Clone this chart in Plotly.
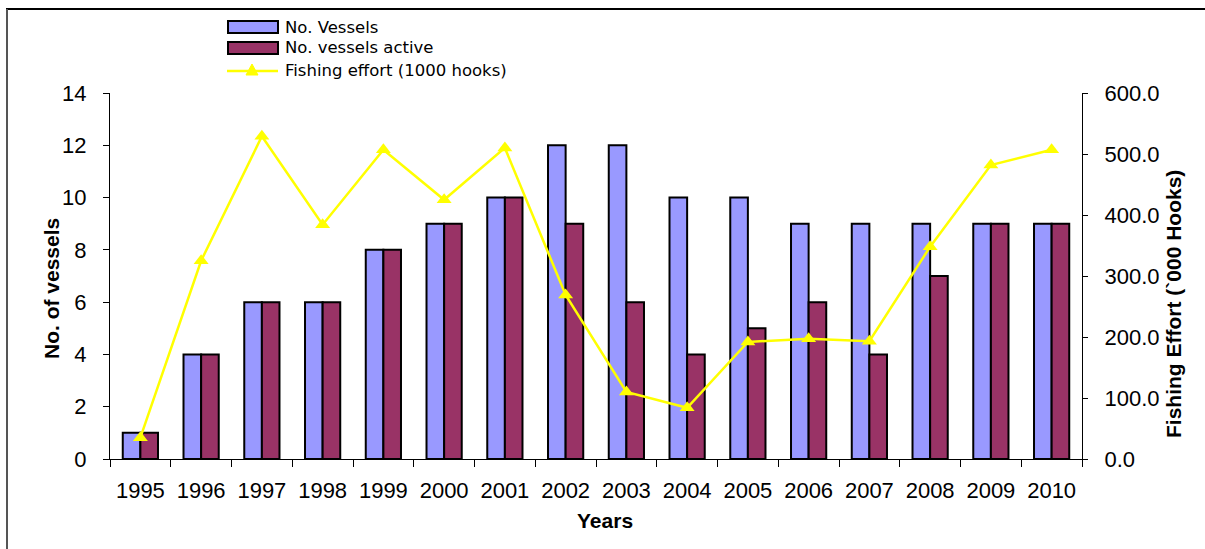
import plotly.graph_objects as go

years = [str(y) for y in range(1995, 2011)]
vessels = [1, 4, 6, 6, 8, 9, 10, 12, 12, 10, 10, 9, 9, 9, 9, 9]
vessels_active = [1, 4, 6, 6, 8, 9, 10, 9, 6, 4, 5, 6, 4, 7, 9, 9]
effort = [35, 325, 529, 384, 507, 425, 510, 269, 110, 84, 192, 197, 193, 348, 482, 507]

series_names = ["No. Vessels", "No. vessels active", "Fishing effort (1000 hooks)"]
blue = "#9999FF"
plum = "#993366"
yellow = "#FFFF00"

W, H = 1205, 549
L, R, T, B = 110, 123, 93, 90
PW, PH = W - L - R, H - T - B


def px(x):
    return (x - L) / PW


def py(y):
    return (H - B - y) / PH


fig = go.Figure()
fig.add_trace(go.Bar(x=years, y=vessels, name=series_names[0], marker=dict(color=blue, line=dict(color="black", width=2)), yaxis="y"))
fig.add_trace(go.Bar(x=years, y=vessels_active, name=series_names[1], marker=dict(color=plum, line=dict(color="black", width=2)), yaxis="y"))
fig.add_trace(go.Scatter(x=years, y=effort, name=series_names[2], mode="lines+markers",
                         line=dict(color=yellow, width=2.5),
                         marker=dict(symbol="triangle-up", size=13, color=yellow), yaxis="y2"))

axis_font = dict(family="Liberation Sans, Arial, sans-serif", size=22, color="black")
title_font = dict(family="Liberation Sans, Arial, sans-serif", size=21, color="black")

fig.update_layout(
    width=W, height=H,
    margin=dict(l=L, r=R, t=T, b=B),
    paper_bgcolor="white", plot_bgcolor="white",
    showlegend=False,
    barmode="group", bargap=0.42, bargroupgap=0,
    xaxis=dict(type="category", range=[-0.5, 15.5], showline=True, linecolor="black", linewidth=1.2,
               ticks="outside", tickson="boundaries", ticklen=7, tickcolor="black",
               tickfont=axis_font, showgrid=False, ticklabelstandoff=11),
    yaxis=dict(range=[0, 14], dtick=2, showline=True, linecolor="black", linewidth=1.2,
               ticks="outside", ticklen=6, tickcolor="black", tickfont=axis_font,
               showgrid=False, zeroline=False, ticklabelstandoff=12),
    yaxis2=dict(range=[0, 600], dtick=100, tickformat=".1f", overlaying="y", side="right",
                showline=True, linecolor="black", linewidth=1.2, ticks="outside", ticklen=5,
                tickcolor="black", tickfont=axis_font, showgrid=False, zeroline=False,
                ticklabelstandoff=12),
)

annotations = [
    dict(text="<b>Years</b>", x=px(605), y=py(520), xref="paper", yref="paper",
         showarrow=False, font=title_font, xanchor="center", yanchor="middle"),
    dict(text="<b>No. of vessels</b>", x=px(51), y=py(289), xref="paper", yref="paper",
         showarrow=False, font=title_font, textangle=-90, xanchor="center", yanchor="middle"),
    dict(text="<b>Fishing Effort (`000 Hooks)</b>", x=px(1173), y=py(304), xref="paper", yref="paper",
         showarrow=False, font=title_font, textangle=-90, xanchor="center", yanchor="middle"),
]

# hand-built legend block above the plot
legend_font = dict(family="DejaVu Sans, sans-serif", size=16.5, color="black")
rows = [27, 48, 70]
for name, yc in zip(series_names, rows):
    annotations.append(dict(text=name, x=px(283), y=py(yc), xref="paper", yref="paper",
                            showarrow=False, font=legend_font, xanchor="left", yanchor="middle"))

shapes = [
    dict(type="rect", xref="paper", yref="paper", x0=px(228), x1=px(278), y0=py(21), y1=py(33),
         fillcolor=blue, line=dict(color="black", width=2)),
    dict(type="rect", xref="paper", yref="paper", x0=px(228), x1=px(278), y0=py(42), y1=py(54),
         fillcolor=plum, line=dict(color="black", width=2)),
    dict(type="line", xref="paper", yref="paper", x0=px(227), x1=px(278), y0=py(71), y1=py(71),
         line=dict(color=yellow, width=2.5)),
    dict(type="path", xref="paper", yref="paper",
         path=f"M {px(246)},{py(75)} L {px(258)},{py(75)} L {px(252)},{py(64)} Z",
         fillcolor=yellow, line=dict(color=yellow, width=1)),
    # outer frame: top and left edges
    dict(type="line", xref="paper", yref="paper", x0=px(6), x1=px(1205), y0=py(9), y1=py(9),
         line=dict(color="black", width=2)),
    dict(type="line", xref="paper", yref="paper", x0=px(7), x1=px(7), y0=py(9), y1=py(549),
         line=dict(color="#555555", width=2)),
]

fig.update_layout(annotations=annotations, shapes=shapes)
fig.write_html("out.html")
